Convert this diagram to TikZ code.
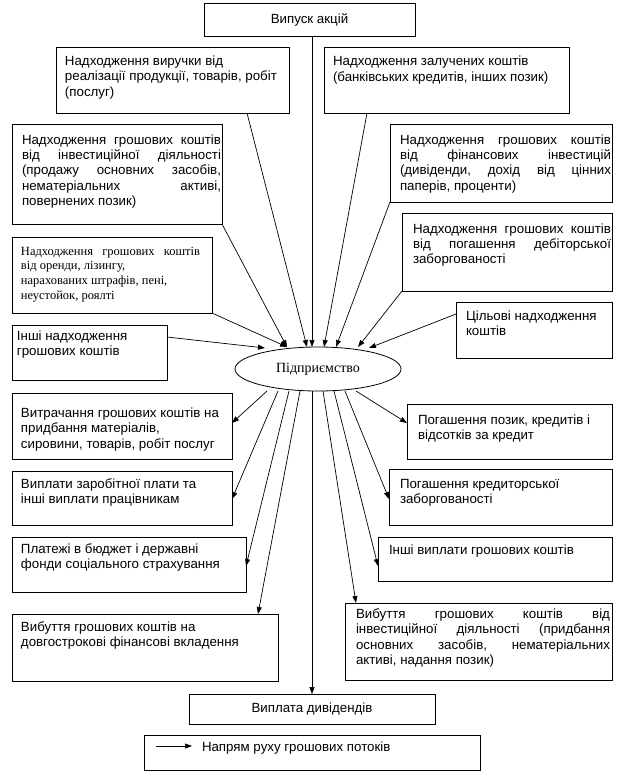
\documentclass[tikz,border=0pt]{standalone}
\usepackage{fontspec}
\setmainfont{Liberation Sans}
\newfontfamily\serifcyr{Liberation Serif}
\usetikzlibrary{arrows.meta,shapes.geometric}
% #1 box width, #2 box height, #3 left pad, #4 first baseline, #5 text width, #6 text
\newcommand{\bx}[6]{\parbox[c][#2][t]{#1}{\hspace*{#3}\parbox[t]{#5}{\rule{0pt}{#4}#6}}}
\tikzset{
  box/.style={draw, rectangle, line width=0.8pt, inner sep=0pt, outer sep=0pt},
  arr/.style={-{Triangle[length=7pt,width=5pt]}, line width=0.7pt},
}
\begin{document}
\begin{tikzpicture}[x=1pt,y=-1pt,font=\fontsize{13.3}{15.4}\selectfont]
\useasboundingbox (0,0) rectangle (616,774);

\node[box, minimum width=211pt, minimum height=33pt] (vyp) at (309.5,19.5) {Випуск акцій};
\node[box] (vyr) at (172.5,80) {\bx{233pt}{66pt}{9pt}{18.5pt}{222pt}{Надходження виручки від\\реалізації продукції, товарів, робіт\\(послуг)}};
\node[box] (zal) at (446.5,80) {\bx{245pt}{66pt}{9pt}{18.7pt}{234pt}{Надходження залучених коштів\\(банківських кредитів, інших позик)}};
\node[box] (inv) at (117,174) {\bx{210pt}{100pt}{10pt}{20pt}{199pt}{Надходження\hfill грошових\hfill коштів\\від\hfill інвестиційної\hfill діяльності\\(продажу\hfill основних\hfill засобів,\\нематеріальних\hfill активі,\\повернених позик)}};
\node[box] (fin) at (501,163) {\bx{222pt}{78pt}{10pt}{20pt}{211pt}{Надходження\hfill грошових\hfill коштів\\від\hfill фінансових\hfill інвестицій\\(дивіденди,\hfill дохід\hfill від\hfill цінних\\паперів, проценти)}};
\node[box] (deb) at (507,252) {\bx{210pt}{78pt}{11pt}{20pt}{198pt}{Надходження\hfill грошових\hfill коштів\\від\hfill погашення\hfill дебіторської\\заборгованості}};
\node[box] (oren) at (112,275) {\bx{200pt}{76pt}{9pt}{18pt}{179pt}{\serifcyr\fontsize{12.5}{14.7}\selectfont Надходження\hfill грошових\hfill коштів\\від оренди, лізингу,\\нарахованих штрафів, пені,\\неустойок, роялті}};
\node[box] (tsil) at (534,330) {\bx{156pt}{56pt}{10pt}{18pt}{144pt}{Цільові надходження\\коштів}};
\node[box] (inshi) at (89.5,352.5) {\bx{155pt}{55pt}{5pt}{15.5pt}{148pt}{Інші надходження\\грошових коштів}};
\node[draw, ellipse, line width=0.8pt, inner sep=0pt, outer sep=0pt, minimum width=166pt, minimum height=44pt, font=\serifcyr\fontsize{14}{16}\selectfont] (ell) at (318,369) {Підприємство};
\node[box] (vytr) at (122,426) {\bx{220pt}{66pt}{9pt}{24.5pt}{209pt}{Витрачання грошових коштів на\\придбання матеріалів,\\сировини, товарів, робіт послуг}};
\node[box] (pozyk) at (509.5,431.5) {\bx{205pt}{55pt}{11pt}{20.5pt}{192pt}{Погашення позик, кредитів і\\відсотків за кредит}};
\node[box] (zarp) at (122,498) {\bx{220pt}{54pt}{9pt}{17pt}{209pt}{Виплати заробітної плати та\\інші виплати працівникам}};
\node[box] (kred) at (500.5,497) {\bx{223pt}{56pt}{11pt}{19pt}{210pt}{Погашення кредиторської\\заборгованості}};
\node[box] (plat) at (129,564.5) {\bx{234pt}{55pt}{9pt}{16pt}{223pt}{Платежі в бюджет і державні\\фонди соціального страхування}};
\node[box] (inshvyp) at (495,559) {\bx{234pt}{44pt}{11pt}{17pt}{221pt}{Інші виплати грошових коштів}};
\node[box] (dovg) at (145,647.5) {\bx{266pt}{67pt}{9pt}{17pt}{255pt}{Вибуття грошових коштів на\\довгострокові фінансові вкладення}};
\node[box] (vybinv) at (478.5,641.5) {\bx{267pt}{77pt}{11pt}{15.4pt}{254pt}{Вибуття\hfill грошових\hfill коштів\hfill від\\інвестиційної\hfill діяльності\hfill (придбання\\основних\hfill засобів,\hfill нематеріальних\\активі, надання позик)}};
\node[box, minimum width=246pt, minimum height=30pt] (dyv) at (312,709) {Виплата дивідендів};
\node[box] (leg) at (312,752.5) {\bx{336pt}{35pt}{58pt}{16pt}{270pt}{Напрям руху грошових потоків}};

% arrow tips at the enterprise
\coordinate (tA) at (265,348);
\coordinate (tB) at (287,347);
\coordinate (tC) at (307,347);
\coordinate (tD) at (312,347);
\coordinate (tE) at (324,347);
\coordinate (tF) at (336,347);
\coordinate (tG) at (358,347);
\coordinate (tH) at (369,348);
% starts below the enterprise
\coordinate (s1) at (267,391);
\coordinate (s2) at (278,391);
\coordinate (s3) at (289,391);
\coordinate (s4) at (300,391);
\coordinate (s5) at (312,391);
\coordinate (s6) at (323,391);
\coordinate (s7) at (334,391);
\coordinate (s8) at (345,391);
\coordinate (s9) at (356,391);

\draw[arr] ([yshift=15.5pt]inshi.east) -- (tA);
\draw[arr] (oren.south east) -- (tB);
\draw[arr] (inv.south east) -- (tB);
\draw[arr] ([xshift=74.5pt]vyr.south) -- (tC);
\draw[arr] ([xshift=2.5pt]vyp.south) -- (tD);
\draw[arr] ([xshift=-79.5pt]zal.south) -- (tE);
\draw[arr] (fin.south west) -- (tF);
\draw[arr] (deb.south west) -- (tG);
\draw[arr] ([yshift=16pt]tsil.west) -- (tH);

\draw[arr] (s1) -- ([yshift=3pt]vytr.east);
\draw[arr] (s2) -- ([yshift=-1pt]zarp.east);
\draw[arr] (s3) -- ([yshift=-1.5pt]plat.east);
\draw[arr] (s4) -- ([xshift=113pt]dovg.north);
\draw[arr] (s5) -- (dyv.north);
\draw[arr] (s6) -- ([xshift=-122.5pt]vybinv.north);
\draw[arr] (s7) -- ([yshift=-7pt]inshvyp.west);
\draw[arr] (s8) -- ([yshift=-2pt]kred.west);
\draw[arr] (s9) -- ([yshift=8.5pt]pozyk.west);

\coordinate (la) at (156,746);
\coordinate (lb) at (192,746);
\draw[arr] (la) -- (lb);
\end{tikzpicture}
\end{document}
